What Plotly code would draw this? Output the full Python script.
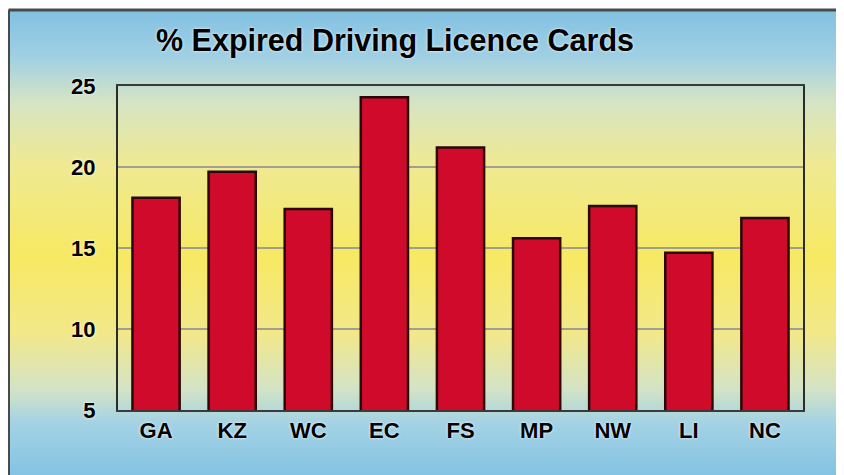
import base64
import plotly.graph_objects as go

categories = ["GA", "KZ", "WC", "EC", "FS", "MP", "NW", "LI", "NC"]
expired_pct = [18.1, 19.7, 17.4, 24.3, 21.2, 15.6, 17.6, 14.7, 16.85]
y_ticks = [5, 10, 15, 20, 25]
title_text = "% Expired Driving Licence Cards"

WIN_W, WIN_H = 844, 475
OFF = 8  # default page body margin in the browser
W, H = WIN_W - OFF, WIN_H - OFF
# plot area in window pixels: x 118..803, y 86..410
ML, MT = 118 - OFF, 86 - OFF
MR = W - (803 - OFF)
MB = H - (410 - OFF)
PW, PH = W - ML - MR, H - MT - MB


def px_x(px):
    """window pixel x -> paper coordinate"""
    return (px - OFF - ML) / PW


def px_y(py):
    """window pixel y -> paper coordinate"""
    return (H - MB - (py - OFF)) / PH


svg = (
    '<svg xmlns="http://www.w3.org/2000/svg" width="100" height="100" preserveAspectRatio="none">'
    '<defs><linearGradient id="g" x1="0" y1="0" x2="0" y2="1">'
    '<stop offset="0" stop-color="#82c1e2"/>'
    '<stop offset="0.10" stop-color="#a2d0e3"/>'
    '<stop offset="0.19" stop-color="#d4e4c4"/>'
    '<stop offset="0.32" stop-color="#efe994"/>'
    '<stop offset="0.52" stop-color="#f7e963"/>'
    '<stop offset="0.68" stop-color="#f2e88a"/>'
    '<stop offset="0.80" stop-color="#d2e3c6"/>'
    '<stop offset="0.87" stop-color="#a3d2e4"/>'
    '<stop offset="1" stop-color="#7ec0e3"/>'
    '</linearGradient></defs>'
    '<rect width="100" height="100" fill="url(#g)"/></svg>'
)
svg_uri = "data:image/svg+xml;base64," + base64.b64encode(svg.encode()).decode()

halo = "0px 0px 3px white"
FONT = "Liberation Sans, Arial, sans-serif"

fig = go.Figure(
    go.Bar(
        x=categories,
        y=expired_pct,
        marker=dict(color="#cf0a2b", line=dict(color="#2a0808", width=2.5)),
        width=0.62,
        hoverinfo="x+y",
    )
)

fig.update_layout(
    width=W,
    height=H,
    margin=dict(l=ML, r=MR, t=MT, b=MB, pad=0),
    paper_bgcolor="white",
    plot_bgcolor="rgba(0,0,0,0)",
    showlegend=False,
    title=dict(
        text=title_text,
        x=(395 - OFF) / W,
        xanchor="center",
        xref="container",
        y=1 - (40 - OFF) / H,
        yanchor="middle",
        yref="container",
        font=dict(family=FONT, size=30.5, color="black", weight="bold", shadow=halo),
    ),
    font=dict(family=FONT, color="black"),
)

fig.update_yaxes(
    range=[5, 25],
    tickvals=y_ticks,
    tickfont=dict(size=22, weight="bold", shadow=halo),
    ticklabelstandoff=16,
    showgrid=True,
    gridcolor="#a09f92",
    gridwidth=2,
    showline=True,
    linecolor="#2b2b2b",
    linewidth=2,
    mirror=True,
    zeroline=False,
    fixedrange=True,
)
fig.update_xaxes(
    tickfont=dict(size=22, weight="bold", shadow=halo),
    ticklabelstandoff=0,
    showline=True,
    linecolor="#3a3a3a",
    linewidth=2,
    mirror=True,
    showgrid=False,
    fixedrange=True,
)

fig.add_layout_image(
    dict(
        source=svg_uri,
        xref="paper",
        yref="paper",
        x=px_x(9),
        y=px_y(11),
        sizex=px_x(WIN_W + 10) - px_x(9),
        sizey=px_y(11) - px_y(WIN_H + 10),
        sizing="stretch",
        xanchor="left",
        yanchor="top",
        layer="below",
    )
)

fig.add_shape(
    type="line",
    xref="paper", yref="paper",
    x0=px_x(8.5), x1=px_x(WIN_W + 10), y0=px_y(10), y1=px_y(10),
    line=dict(color="#4a4a4a", width=3),
    layer="above",
)
fig.add_shape(
    type="line",
    xref="paper", yref="paper",
    x0=px_x(8.5), x1=px_x(8.5), y0=px_y(10), y1=px_y(WIN_H + 10),
    line=dict(color="#4a4a4a", width=3),
    layer="above",
)

fig.write_html("out.html")
